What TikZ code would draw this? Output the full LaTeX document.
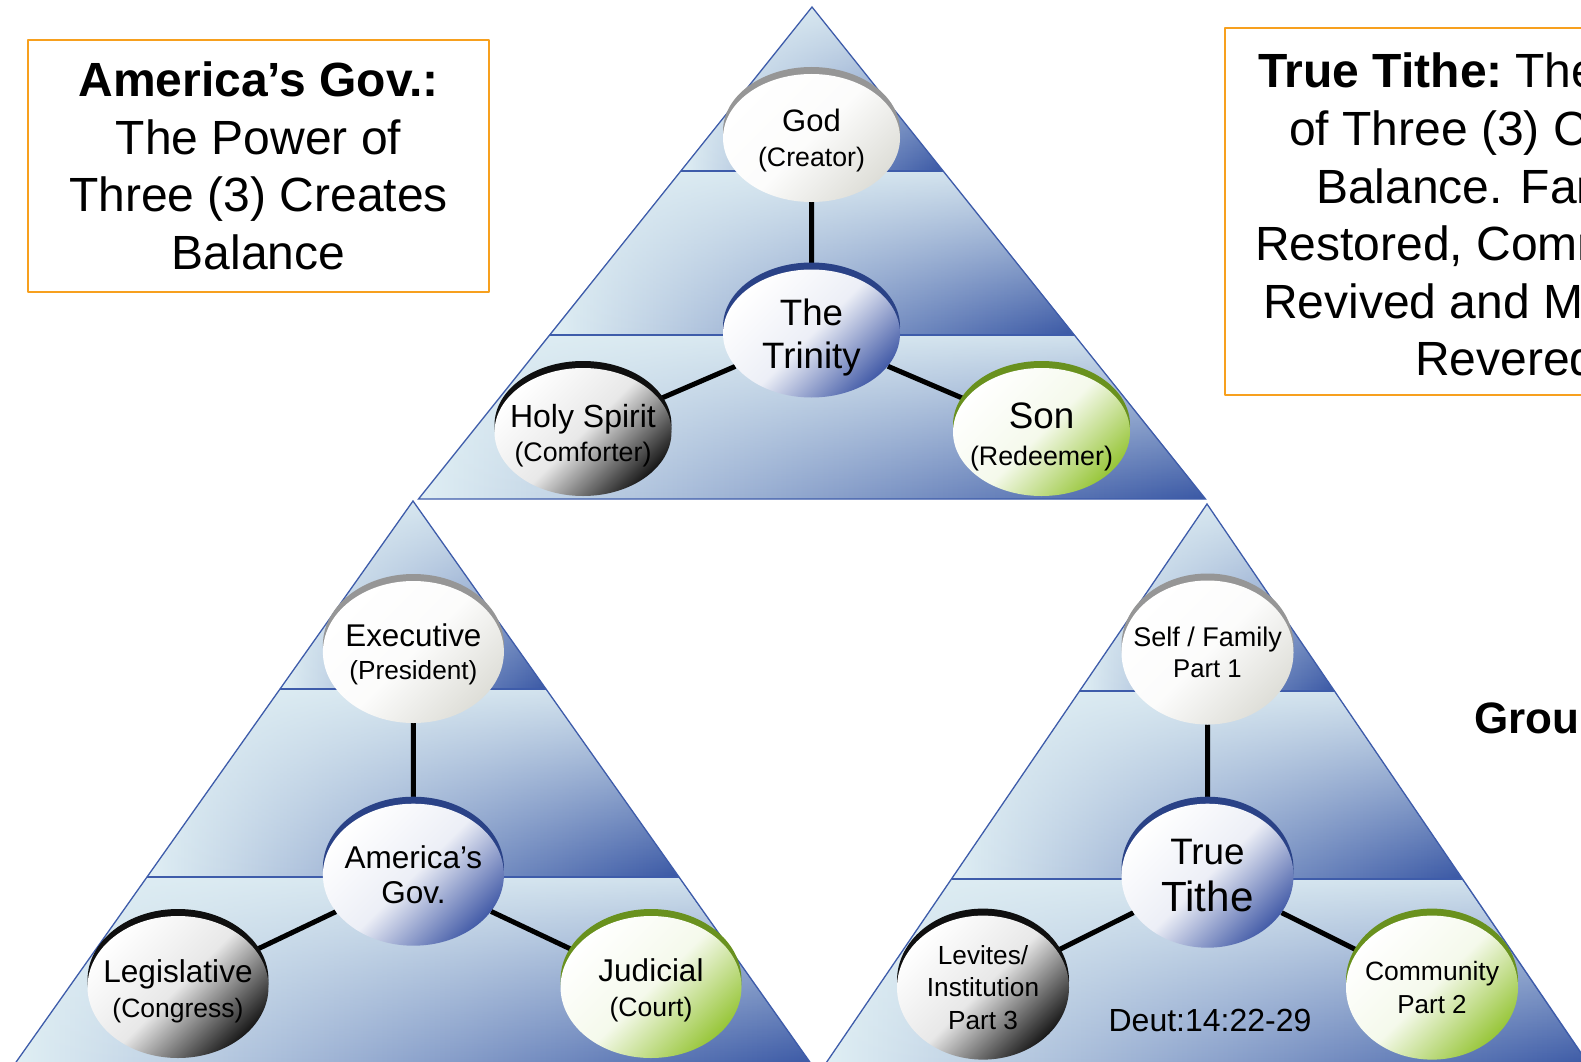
\documentclass[tikz,border=0pt]{standalone}
\usepackage{fontspec}
\setmainfont{Liberation Sans}
\usetikzlibrary{shapes.geometric,shadows,fadings}

\definecolor{bandlight}{RGB}{224,239,244}
\definecolor{bandmid}{RGB}{176,194,219}
\definecolor{banddark}{RGB}{58,88,165}
\definecolor{edgeblue}{RGB}{62,92,170}
\definecolor{boxorange}{RGB}{247,160,30}
\definecolor{crestgray}{RGB}{150,150,150}
\definecolor{ballgray}{RGB}{222,222,216}
\definecolor{crestblue}{RGB}{42,66,135}
\definecolor{ballblue}{RGB}{68,92,168}
\definecolor{crestblack}{RGB}{15,15,15}
\definecolor{ballblack}{RGB}{25,25,25}
\definecolor{crestgreen}{RGB}{105,145,30}
\definecolor{ballgreen}{RGB}{152,198,58}

\pgfdeclarelayer{pyr}
\pgfdeclarelayer{links}
\pgfsetlayers{pyr,links,main}

\tikzset{
  ball/.style 2 args={ellipse, inner sep=0pt, top color=white, bottom color=#2,
    middle color=white!90!#2, shading angle=45,
    general shadow={fill=#1, shadow yshift=7pt}},
  topsize/.style={minimum width=177pt, minimum height=128pt},
  lsize/.style={minimum width=181pt, minimum height=142pt},
  rsize/.style={minimum width=172pt, minimum height=144pt},
  tag/.style={align=center, inner sep=0pt},
  link/.style={line width=5pt, black},
  bandline/.style={line width=2pt, edgeblue},
  edgeline/.style={line width=1.3pt, edgeblue},
  boxline/.style={line width=2.5pt, draw=boxorange},
  boxtext/.style={inner sep=0pt, font=\fontsize{48}{57.5}\selectfont},
}

% apex x, apex y, height, half base
\newcommand\pyramid[4]{%
  \begin{pgfonlayer}{pyr}
  \foreach \i in {0,1,2}{
    \coordinate (tl) at ({#1-\i*#4/3},{#2+\i*#3/3});
    \coordinate (tr) at ({#1+\i*#4/3},{#2+\i*#3/3});
    \coordinate (br) at ({#1+(\i+1)*#4/3},{#2+(\i+1)*#3/3});
    \coordinate (bl) at ({#1-(\i+1)*#4/3},{#2+(\i+1)*#3/3});
    \shade[left color=bandlight, middle color=bandmid, right color=banddark]
      (tl) -- (tr) -- (br) -- (bl) -- cycle;
    \fill[bandlight, path fading=south, fill opacity=.9]
      (tl) -- (tr) -- (br) -- (bl) -- cycle;
  }
  \foreach \i in {1,2}
    \draw[bandline] ({#1-\i*#4/3},{#2+\i*#3/3}) -- ({#1+\i*#4/3},{#2+\i*#3/3});
  \draw[edgeline] (#1,#2) -- ({#1-#4},{#2+#3}) -- ({#1+#4},{#2+#3}) -- cycle;
  \end{pgfonlayer}}

\begin{document}
\begin{tikzpicture}[x=1pt, y=-1pt, line join=round, line cap=round]
\useasboundingbox (0,0) rectangle (1581,1062);

\pyramid{812}{7}{492}{393.5}
\pyramid{413}{501}{564}{399}
\pyramid{1207}{504}{562}{383}

% top: the trinity
\node[ball={crestgray}{ballgray}, topsize,
  label={[tag, yshift=-3pt, font=\fontsize{31}{35}\selectfont]center:{God\\\fontsize{26.7}{35}\selectfont(Creator)}}]
  (god) at (811.5,138) {};
\node[ball={crestblue}{ballblue}, topsize,
  label={[tag, yshift=-4pt, font=\fontsize{36.7}{43.4}\selectfont]center:{The\\Trinity}}]
  (trinity) at (811.5,333.5) {};
\node[ball={crestblack}{ballblack}, topsize,
  label={[tag, yshift=-4pt, font=\fontsize{32}{34.3}\selectfont]center:{Holy Spirit\\\fontsize{26.8}{34.3}\selectfont(Comforter)}}]
  (holy) at (583,432) {};
\node[ball={crestgreen}{ballgreen}, topsize,
  label={[tag, yshift=-5pt, font=\fontsize{36.8}{37.3}\selectfont]center:{Son\\\fontsize{26.8}{37.3}\selectfont(Redeemer)}}]
  (son) at (1041.5,432) {};

% left: government
\node[ball={crestgray}{ballgray}, lsize,
  label={[tag, yshift=-2pt, font=\fontsize{31.4}{33.3}\selectfont]center:{Executive\\\fontsize{26.2}{33.3}\selectfont(President)}}]
  (exec) at (413.4,652) {};
\node[ball={crestblue}{ballblue}, lsize,
  label={[tag, font=\fontsize{31.5}{35.3}\selectfont]center:{America’s\\Gov.}}]
  (gov) at (413.4,874.7) {};
\node[ball={crestblack}{ballblack}, lsize,
  label={[tag, yshift=-4pt, font=\fontsize{31.6}{35.3}\selectfont]center:{Legislative\\\fontsize{26.5}{35.3}\selectfont(Congress)}}]
  (legis) at (178,987) {};
\node[ball={crestgreen}{ballgreen}, lsize,
  label={[tag, yshift=-3pt, font=\fontsize{31.5}{35.3}\selectfont]center:{Judicial\\\fontsize{26.6}{35.3}\selectfont(Court)}}]
  (judic) at (651,987) {};

% right: the tithe
\node[ball={crestgray}{ballgray}, rsize,
  label={[tag, font=\fontsize{27}{31.3}\selectfont]center:{Self / Family\\\fontsize{25.7}{31.3}\selectfont Part 1}}]
  (self) at (1207.5,652.5) {};
\node[ball={crestblue}{ballblue}, rsize,
  label={[tag, font=\fontsize{36.8}{47.4}\selectfont]center:{True\\\fontsize{42.2}{47.4}\selectfont Tithe}}]
  (tithe) at (1207.5,875.7) {};
\node[ball={crestblack}{ballblack}, rsize,
  label={[tag, font=\fontsize{26.2}{32.3}\selectfont]center:{Levites/\\Institution\\Part 3}}]
  (levites) at (983,987.6) {};
\node[ball={crestgreen}{ballgreen}, rsize,
  label={[tag, font=\fontsize{26.5}{32.3}\selectfont]center:{Community\\\fontsize{26}{32.3}\selectfont Part 2}}]
  (commun) at (1432,987.6) {};
\node[tag, font=\fontsize{32}{32}\selectfont] (deut) at (1210,1020) {Deut:14:22-29};

\begin{pgfonlayer}{links}
\draw[link] (god) -- (trinity) (trinity) -- (holy) (trinity) -- (son);
\draw[link] (exec) -- (gov) (gov) -- (legis) (gov) -- (judic);
\draw[link] (self) -- (tithe) (tithe) -- (levites) (tithe) -- (commun);
\end{pgfonlayer}

% captions
\node[boxline, minimum width=461pt, minimum height=252pt, align=center,
  font=\fontsize{48}{57.5}\selectfont] (govbox) at (258.5,166)
  {\textbf{America’s Gov.:}\\The Power of\\Three (3) Creates\\Balance};
\draw[boxline] (1225,28) rectangle (1760,395);
\node[boxtext, anchor=base west] (tt1) at (1258,88) {\textbf{True Tithe:}\kern-5pt{} The Power};
\node[boxtext, anchor=base west] (tt2) at (1289,145.5) {of Three (3) Creates};
\node[boxtext, anchor=base west] (tt3) at (1316,203) {Balance. Family};
\node[boxtext, anchor=base west] (tt4) at (1255,260.5) {Restored, Community};
\node[boxtext, anchor=base west] (tt5) at (1263,318) {Revived and Ministry};
\node[boxtext, anchor=base west] (tt6) at (1415,375.5) {Revered};
\node[inner sep=0pt, anchor=base west, font=\bfseries\fontsize{44}{44}\selectfont]
  (group) at (1474,733) {Group};
\end{tikzpicture}
\end{document}
